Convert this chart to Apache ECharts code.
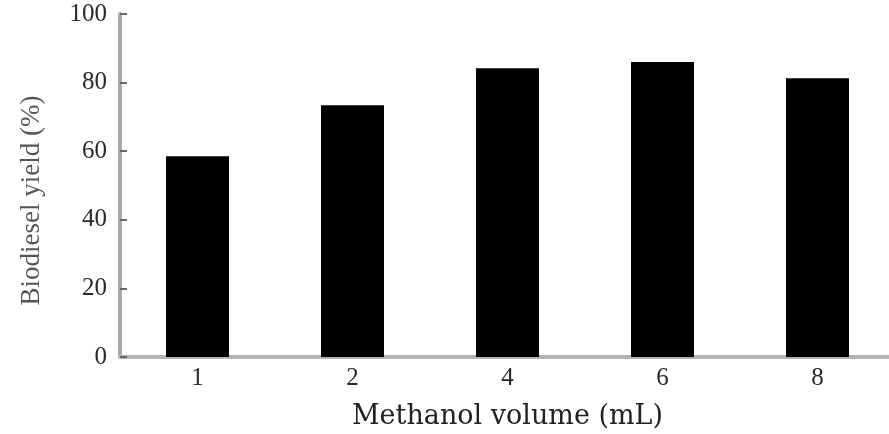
<!DOCTYPE html>
<html>
<head>
<meta charset="utf-8">
<script src="https://cdn.jsdelivr.net/npm/echarts@6/dist/echarts.min.js"></script>
<style>
    html, body { margin: 0; padding: 0; background: #fff; }
    #main { width: 889px; height: 434px; }
</style>
</head>
<body>
<div id="main"></div>
<script>
// methanol volume (mL) on the x axis
const volumes = ["1", "2", "4", "6", "8"];
// biodiesel yield (%)
const yields = [58.5, 73.4, 84.2, 86.0, 81.3];
const yTicks = { min: 0, max: 100, interval: 20 };

const serif = "'Liberation Serif', 'Times New Roman', serif";

let option = {
    backgroundColor: "#fff",
    animation: false,
    grid: {
        left: 120,
        right: -6,
        top: 14,
        bottom: 77,
        outerBoundsMode: "none",
    },
    xAxis: {
        type: "category",
        data: volumes,
        name: "Methanol volume (mL)",
        nameLocation: "middle",
        nameGap: 46,
        nameTextStyle: {
            fontFamily: "'DejaVu Serif', serif",
            fontSize: 27,
            color: "#222",
        },
        axisLine: {
            lineStyle: { color: "#b4b4b4", width: 4 },
        },
        axisTick: {
            inside: true,
            length: 7,
            lineStyle: { color: "#666", width: 2 },
        },
        axisLabel: {
            margin: 9,
            fontFamily: serif,
            fontSize: 25,
            color: "#2a2a2a",
        },
    },
    yAxis: {
        type: "value",
        min: yTicks.min,
        max: yTicks.max,
        interval: yTicks.interval,
        name: "Biodiesel yield (%)",
        nameLocation: "middle",
        nameGap: 75,
        nameTextStyle: {
            fontFamily: serif,
            fontSize: 27,
            color: "#555",
            padding: [0, 30, 0, 0],
        },
        axisLine: {
            show: true,
            lineStyle: { color: "#aaa", width: 4 },
        },
        axisTick: {
            show: true,
            inside: true,
            length: 7,
            lineStyle: { color: "#666", width: 2 },
        },
        splitLine: { show: false },
        axisLabel: {
            margin: 13,
            fontFamily: serif,
            fontSize: 25,
            color: "#2a2a2a",
        },
    },
    series: [
        {
            type: "bar",
            data: yields,
            barWidth: 63,
            itemStyle: { color: "#000" },
        },
    ],
};

let myChart = echarts.init(document.getElementById("main"));
myChart.setOption(option);
</script>
</body>
</html>
